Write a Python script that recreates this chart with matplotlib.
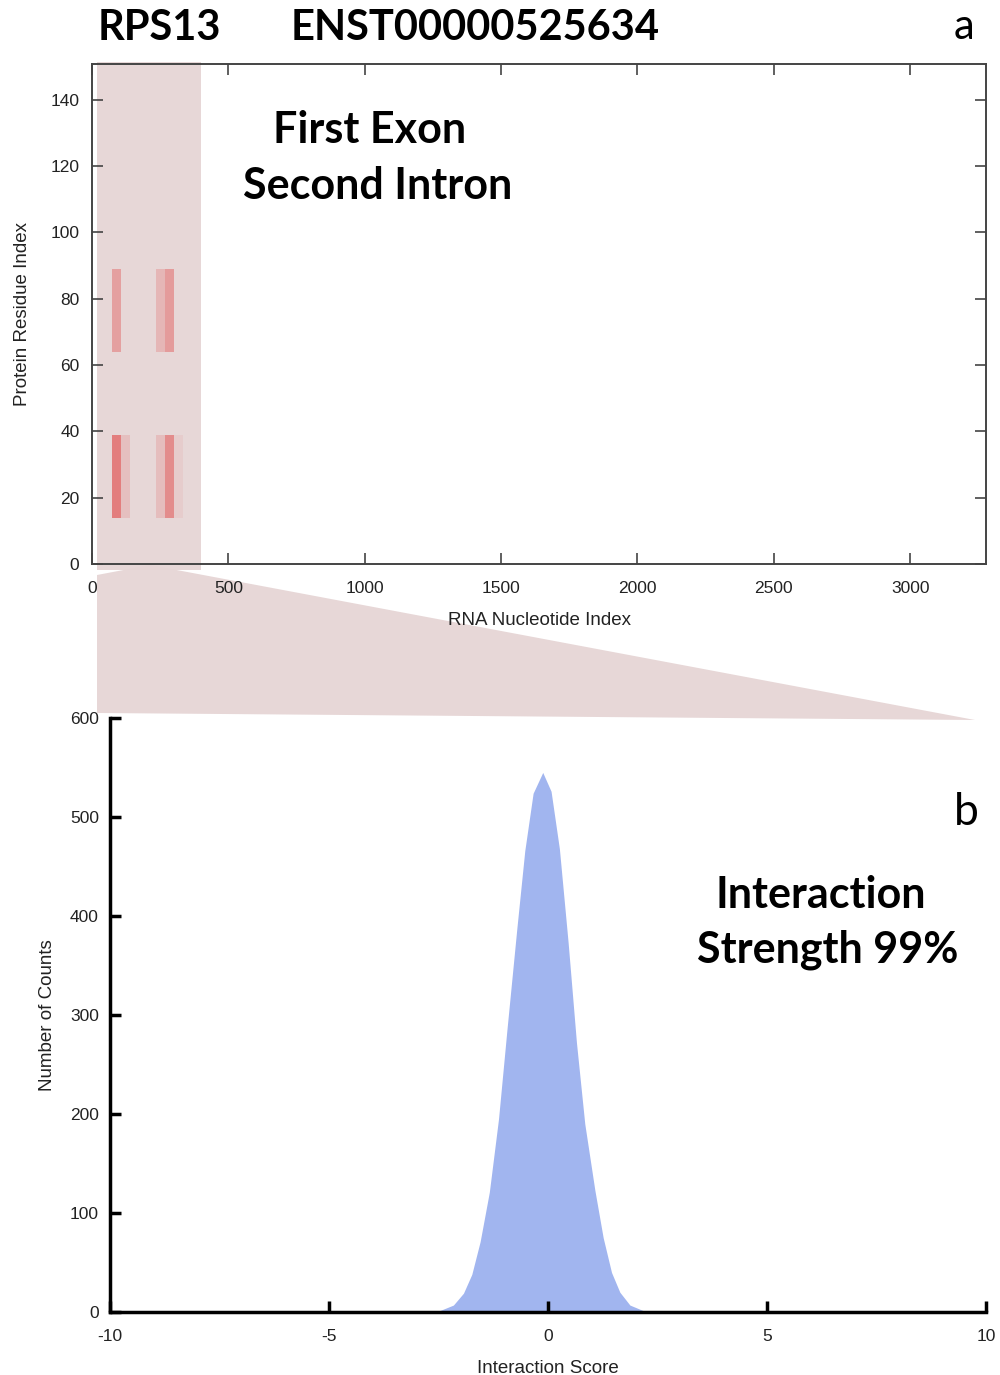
import matplotlib
matplotlib.use("Agg")
import matplotlib.pyplot as plt
import numpy as np
from matplotlib.colors import LinearSegmentedColormap
from matplotlib.patches import Polygon, Rectangle

# interaction map: cells of 33 nt x 25 residues
cell_nt_start = [74, 107, 236, 269, 302, 74, 236, 269]
cell_res_start = [14, 14, 14, 14, 14, 64, 64, 64]
cell_score = [0.78, 0.20, 0.22, 0.66, 0.08, 0.48, 0.28, 0.52]
cell_w = 33
cell_h = 25

# interaction score distribution
score_x = [-2.55, -2.16, -1.93, -1.74, -1.55, -1.34, -1.13, -0.94, -0.71, -0.53,
           -0.34, -0.12, 0.07, 0.26, 0.46, 0.65, 0.84, 1.07, 1.26, 1.45,
           1.64, 1.87, 2.25]
score_counts = [0, 7, 19, 38, 71, 121, 195, 284, 388, 466,
                524, 545, 526, 468, 373, 272, 190, 123, 75, 40,
                20, 7, 0]

W, H = 1000, 1375
fig = plt.figure(figsize=(W / 100, H / 100), dpi=100)
plt.rcParams['font.family'] = ['Liberation Sans', 'DejaVu Sans']
plt.rcParams['axes.unicode_minus'] = False


def box(x0, y0, x1, y1):
    # pixel box (top-left origin) -> figure fraction rect
    return [x0 / W, 1 - y1 / H, (x1 - x0) / W, (y1 - y0) / H]


shade = '#e6d5d5'

# --- panel a: heat map ---
ax1 = fig.add_axes(box(92, 64, 986, 564))
ax1.set_xlim(0, 3278)
ax1.set_ylim(0, 150.8)
ax1.add_patch(Rectangle((18, -1.8), 380, 153.3, facecolor=shade, edgecolor='none',
                        alpha=0.95, zorder=0.5, clip_on=False))
cmap = LinearSegmentedColormap.from_list('pinkred', [shade, '#e26666'])
for x0, y0, s in zip(cell_nt_start, cell_res_start, cell_score):
    ax1.add_patch(Rectangle((x0, y0), cell_w, cell_h, facecolor=cmap(s),
                            edgecolor='none', zorder=1))
ax1.set_xticks(range(0, 3001, 500))
ax1.set_yticks(range(0, 141, 20))
ax1.tick_params(direction='in', length=8, width=1.2, color='#444444',
                top=True, right=True, labelsize=12.5, labelcolor='#222222')
ax1.tick_params(axis='x', pad=12)
ax1.tick_params(axis='y', pad=9)
for sp in ax1.spines.values():
    sp.set_color('#444444')
    sp.set_linewidth(1.4)
ax1.set_xlabel('RNA Nucleotide Index', fontsize=13.5, color='#222222', labelpad=12)
ax1.set_ylabel('Protein Residue Index', fontsize=13.5, color='#222222', labelpad=14)

# zoom wedge linking panel a to panel b (drawn beneath the axes)
wedge_px = [(97, 575), (150, 565), (975, 720), (97, 713)]
wedge = Polygon([(x / W, 1 - y / H) for x, y in wedge_px], closed=True,
                transform=fig.transFigure, facecolor=shade, edgecolor='none',
                alpha=0.95, zorder=-1)
fig.patches.append(wedge)

# --- panel b: score distribution ---
ax2 = fig.add_axes(box(110, 718, 986, 1312))
ax2.patch.set_alpha(0)
ax2.fill_between(score_x, score_counts, color='#a1b5ef', linewidth=0)
ax2.set_xlim(-10, 10)
ax2.set_ylim(0, 600)
ax2.set_xticks([-10, -5, 0, 5, 10])
ax2.set_yticks(range(0, 601, 100))
for s in ('top', 'right'):
    ax2.spines[s].set_visible(False)
for s in ('left', 'bottom'):
    ax2.spines[s].set_linewidth(2.5)
    ax2.spines[s].set_color('black')
ax2.tick_params(direction='in', length=8, width=2.5, labelsize=12.5,
                labelcolor='#222222')
ax2.tick_params(axis='x', pad=12)
ax2.tick_params(axis='y', pad=8)
ax2.set_xlabel('Interaction Score', fontsize=13.5, color='#222222', labelpad=12)
ax2.set_ylabel('Number of Counts', fontsize=13.5, color='#222222', labelpad=10)

# headline and annotations
bold = dict(family=['Lato', 'DejaVu Sans'], fontweight='bold', color='black')
fig.text(98 / W, 1 - 28 / H, 'RPS13', fontsize=30, va='center', ha='left', **bold)
fig.text(291 / W, 1 - 28 / H, 'ENST00000525634', fontsize=30, va='center', ha='left', **bold)
fig.text(964 / W, 1 - 27 / H, 'a', fontsize=30, va='center', ha='center',
         family=['Lato', 'DejaVu Sans'], color='black')
fig.text(370 / W, 1 - 130 / H, 'First Exon', fontsize=31, va='center', ha='center', **bold)
fig.text(378 / W, 1 - 186 / H, 'Second Intron', fontsize=31, va='center', ha='center', **bold)
fig.text(966 / W, 1 - 812 / H, 'b', fontsize=32, va='center', ha='center',
         family=['Lato', 'DejaVu Sans'], color='black')
fig.text(821 / W, 1 - 895 / H, 'Interaction', fontsize=31, va='center', ha='center', **bold)
fig.text(828 / W, 1 - 950 / H, 'Strength 99%', fontsize=31, va='center', ha='center', **bold)

fig.savefig('out.png', dpi=100)
